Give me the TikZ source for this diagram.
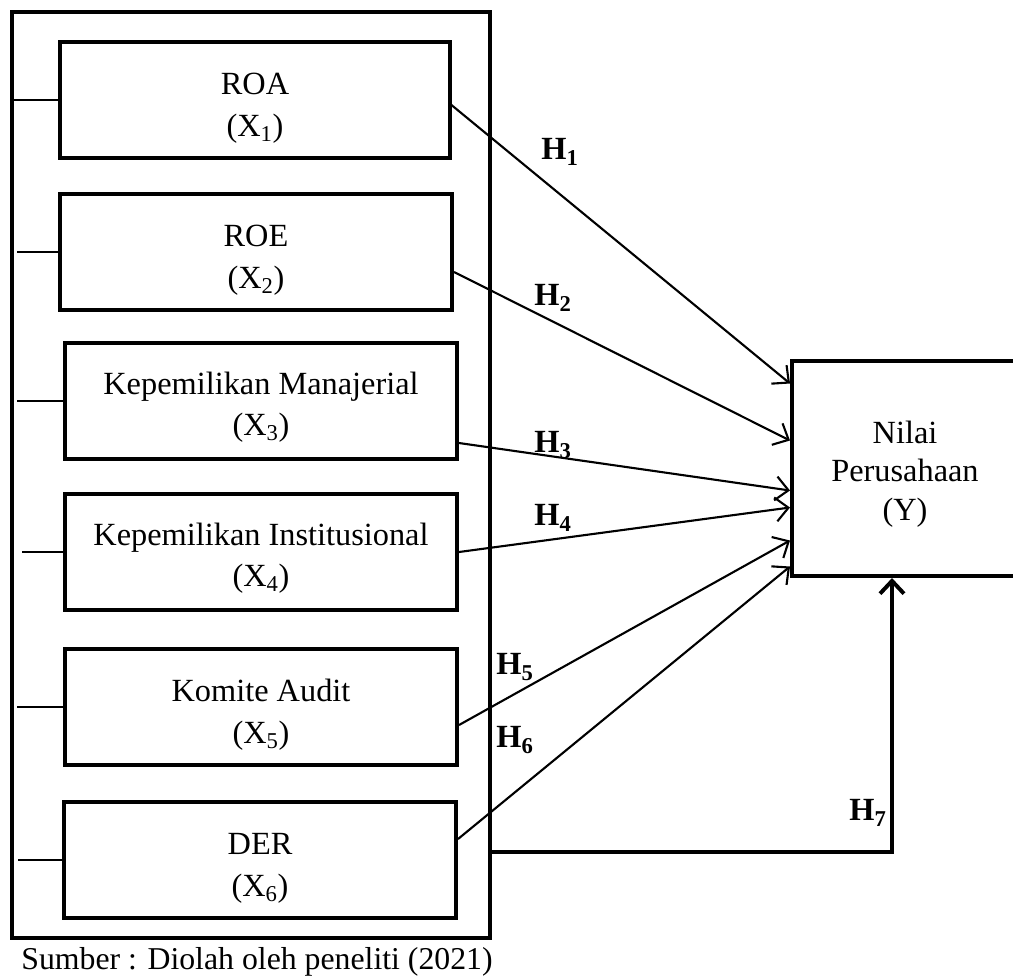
\documentclass[tikz,border=0pt]{standalone}
\usepackage{fontspec}
\setmainfont{Liberation Serif}
\usetikzlibrary{arrows.meta,calc}

% lowers a centred block of lines without changing the box it takes
\newcommand{\lowered}[2]{%
  \raisebox{-#1}[\height][\depth]{\begin{tabular}{@{}c@{}}#2\end{tabular}}}

\begin{document}
\begin{tikzpicture}[
    x=0.025cm,
    y=-0.025cm,
    font=\fontsize{23}{29.5}\selectfont,
    >={Straight Barb[length=3.2mm,width=6mm]},
    varbox/.style={
        draw,
        line width=2.8pt,
        minimum width=9.8cm,
        minimum height=2.9cm
    },
    framebox/.style={
        line width=3pt
    },
    stub/.style={
        line width=1.3pt
    },
    hyp/.style={
        ->,
        line width=1.5pt
    },
    feedback/.style={
        ->,
        line width=2.8pt
    },
    hlabel/.style={
        font=\fontsize{23}{29}\selectfont\bfseries
    }
]

\useasboundingbox (0,0) rectangle (1013,975);

% Outer frame round the independent variables
\coordinate (frameNW) at (12,12);
\coordinate (frameSE) at (490,938);

\draw[
    framebox
] (frameNW) rectangle (frameSE);


% Independent variables
\node[
    varbox,
    minimum width=9.75cm
] (roa) at (255,100) {
    \lowered{5pt}{ROA\\(X\textsubscript{1})}
};

\node[
    varbox
] (roe) at (256,252) {
    \lowered{5pt}{ROE\\(X\textsubscript{2})}
};

\node[
    varbox
] (km) at (261,401) {
    \lowered{4pt}{Kepemilikan Manajerial\\(X\textsubscript{3})}
};

\node[
    varbox
] (ki) at (261,552) {
    \lowered{4pt}{Kepemilikan Institusional\\(X\textsubscript{4})}
};

\node[
    varbox
] (ka) at (261,707) {
    \lowered{5pt}{Komite Audit\\(X\textsubscript{5})}
};

\node[
    varbox
] (der) at (260,860) {
    \lowered{5pt}{DER\\(X\textsubscript{6})}
};

% Stubs from the frame
\draw[stub] (frameNW |- roa.west) -- (roa.west);
\draw[stub] ($(frameNW |- roe.west)+(5,0)$) -- (roe.west);
\draw[stub] ($(frameNW |- km.west)+(5,0)$) -- (km.west);
\draw[stub] ($(frameNW |- ki.west)+(10,0)$) -- (ki.west);
\draw[stub] ($(frameNW |- ka.west)+(5,0)$) -- (ka.west);
\draw[stub] ($(frameNW |- der.west)+(6,0)$) -- (der.west);


% Dependent variable
\node[
    draw,
    line width=2.8pt,
    minimum width=5.65cm,
    minimum height=5.375cm,
    font=\fontsize{23}{27.5}\selectfont
] (nilai) at (905,468.5) {
    \lowered{4pt}{Nilai\\Perusahaan\\(Y)}
};


% Hypotheses H1 - H6
\draw[
    hyp
] ($(roa.east)+(-3,3)$) -- ($(nilai.west)+(0,-85)$);

\draw[
    hyp
] ($(roe.east)+(0,20)$) -- ($(nilai.west)+(0,-28)$);

\draw[
    hyp
] ($(km.east)+(0,42)$) -- ($(nilai.west)+(0,22)$);

\draw[
    hyp
] (ki.east) -- ($(nilai.west)+(0,39)$);

\draw[
    hyp
] ($(ka.east)+(0,18)$) -- ($(nilai.west)+(0,72)$);

\draw[
    hyp
] ($(der.east)+(0,-21)$) -- ($(nilai.west)+(0,98)$);

\node[hlabel] (h1) at (560,152) {H\textsubscript{1}};
\node[hlabel] (h2) at (553,298) {H\textsubscript{2}};
\node[hlabel] (h3) at (553,445) {H\textsubscript{3}};
\node[hlabel] (h4) at (553,518) {H\textsubscript{4}};
\node[hlabel] (h5) at (515,667) {H\textsubscript{5}};
\node[hlabel] (h6) at (515,740) {H\textsubscript{6}};


% Hypothesis H7: simultaneous effect
\coordinate (turn) at (892,852);

\draw[
    feedback
] (turn -| frameSE) -- (turn) -- (turn |- nilai.south);

\node[hlabel] (h7) at (868,813) {H\textsubscript{7}};


% Source
\node[
    font=\fontsize{22.6}{28}\selectfont
] (sumber) at (257,962) {
    Sumber : Diolah oleh peneliti (2021)
};

\end{tikzpicture}
\end{document}
